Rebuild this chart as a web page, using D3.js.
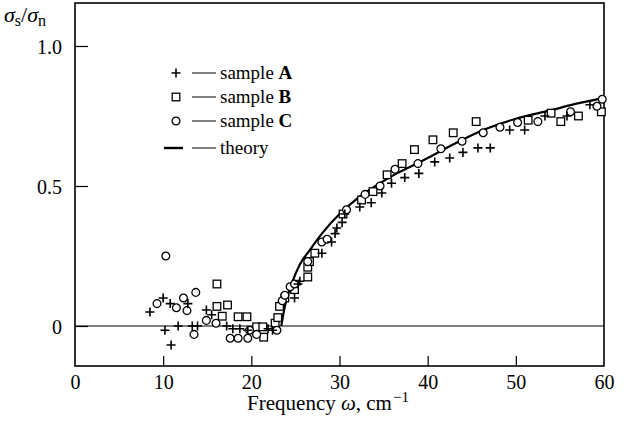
<!DOCTYPE html>
<html>
<head>
<meta charset="utf-8">
<script src="https://cdn.jsdelivr.net/npm/d3@7"></script>
<style>
  body { margin: 0; background: #fff; }
</style>
</head>
<body>
<svg width="637" height="428"></svg>
<script>
// sample A (+)
const aX = [8.5, 10.0, 10.2, 10.8, 10.9, 11.7, 12.8, 13.3, 13.9, 14.9, 15.5, 17.2, 17.9, 18.7, 19.6, 21.9, 22.4,
  24.9, 25.3, 25.5, 28.0, 29.1, 29.5, 29.7, 30.3, 30.6, 32.3, 33.6, 34.8, 35.9, 37.4, 39.0, 40.8, 42.5, 44.0,
  45.7, 47.1, 49.3, 51.0, 53.3, 55.8, 58.4]
const aY = [0.05, 0.10, -0.015, 0.08, -0.068, 0.0, 0.08, 0.0, 0.0, 0.057, 0.04, 0.0, -0.01, -0.01, -0.015, -0.01, -0.015,
  0.10, 0.15, 0.16, 0.26, 0.30, 0.33, 0.35, 0.37, 0.40, 0.425, 0.44, 0.475, 0.51, 0.53, 0.545, 0.586, 0.60, 0.62,
  0.636, 0.636, 0.70, 0.70, 0.75, 0.75, 0.79]

// sample B (squares)
const bX = [16.1, 16.1, 16.7, 17.3, 18.5, 19.5, 20.6, 21.3, 21.4, 22.7, 23.0, 23.2, 23.8, 24.9, 26.4, 26.4, 26.6,
  27.2, 30.4, 32.5, 33.8, 35.4, 37.1, 38.5, 40.6, 42.9, 45.5, 51.4, 54.0, 55.1, 57.1, 59.7]
const bY = [0.15, 0.07, 0.035, 0.075, 0.033, 0.033, -0.003, -0.003, -0.04, 0.01, 0.03, 0.07, 0.10, 0.13, 0.175, 0.21, 0.23,
  0.26, 0.40, 0.45, 0.48, 0.54, 0.58, 0.63, 0.665, 0.69, 0.73, 0.735, 0.76, 0.73, 0.75, 0.765]

// sample C (circles)
const cX = [9.3, 10.3, 11.5, 12.3, 12.7, 13.5, 13.7, 14.9, 16.0, 17.6, 18.5, 19.6, 19.8, 20.6, 22.9, 23.5, 23.8,
  24.4, 24.9, 26.4, 28.0, 28.6, 30.8, 32.9, 34.6, 36.3, 38.9, 41.5, 43.9, 46.3, 48.2, 50.2, 52.5, 56.2, 59.2, 59.8]
const cY = [0.08, 0.25, 0.065, 0.10, 0.055, -0.03, 0.12, 0.02, 0.01, -0.044, -0.044, -0.044, -0.015, -0.03, -0.015, 0.09, 0.11,
  0.14, 0.15, 0.23, 0.30, 0.31, 0.415, 0.47, 0.50, 0.56, 0.58, 0.633, 0.66, 0.69, 0.71, 0.727, 0.73, 0.765, 0.785, 0.81]

// theory curve
const thX = [23.4, 23.8, 24.6, 25.5, 26.6, 28.0, 30.0, 32.0, 34.6, 36.5, 38.8, 40.6, 43.0, 46.3, 50.0, 53.9, 57.0, 60.0]
const thY = [0.0, 0.07, 0.153, 0.22, 0.27, 0.33, 0.40, 0.455, 0.51, 0.545, 0.58, 0.61, 0.65, 0.70, 0.74, 0.77, 0.795, 0.815]

const xTicks = [0, 10, 20, 30, 40, 50, 60]
const yTicks = [0, 0.5, 1.0]
const yTickLabels = ["0", "0.5", "1.0"]
const legendLabels = ["sample ", "sample ", "sample ", "theory"]
const legendKeys = ["A", "B", "C", ""]

var serif = '"Liberation Serif", "Times New Roman", "DejaVu Serif", serif'

var svg = d3.select('svg').attr('font-family', serif)
var padL = 75, padR = 604, padT = 3, padB = 366

var x_scale = d3.scaleLinear().domain([0, 60]).range([padL, padR])
var y_scale = d3.scaleLinear().domain([0, 0.5]).range([326, 186])

// frame
svg.append('rect')
    .attr('x', padL).attr('y', padT)
    .attr('width', padR - padL).attr('height', padB - padT)
    .attr('fill', 'none').attr('stroke', '#000').attr('stroke-width', 1.6)

// zero line
svg.append('line')
    .attr('x1', padL).attr('x2', padR)
    .attr('y1', y_scale(0)).attr('y2', y_scale(0))
    .attr('stroke', '#000').attr('stroke-width', 1.2)

// x axis (inward ticks)
var x_axis = d3.axisTop(x_scale).tickValues(xTicks).tickSize(10).tickFormat('')
var gx = svg.append('g').attr('transform', 'translate(0,' + padB + ')').call(x_axis)
    .attr('font-family', serif)
gx.select('.domain').remove()
gx.selectAll('line').attr('stroke-width', 1.2)
gx.selectAll('.tick').filter(d => d === 0 || d === 60).select('line').remove()
gx.selectAll('.tick').append('text')
    .attr('y', 23).attr('text-anchor', 'middle').attr('fill', '#000')
    .style('font-family', serif).style('font-size', '20px')
    .text(d => d)

// y axis (inward ticks)
var y_axis = d3.axisRight(y_scale).tickValues(yTicks).tickSize(13).tickFormat('')
var gy = svg.append('g').attr('transform', 'translate(' + padL + ',0)').call(y_axis)
    .attr('font-family', serif)
gy.select('.domain').remove()
gy.selectAll('line').attr('stroke-width', 1.2)
gy.selectAll('.tick').append('text')
    .attr('x', -13).attr('dy', '0.35em').attr('text-anchor', 'end').attr('fill', '#000')
    .style('font-family', serif).style('font-size', '20px')
    .text((d, i) => yTickLabels[i])

// y label
var yl = svg.append('text').attr('x', 4).attr('y', 22).attr('fill', '#000')
    .style('font-family', serif).style('font-size', '22px')
yl.append('tspan').style('font-style', 'italic').text('σ')
yl.append('tspan').attr('dy', 4).style('font-size', '16px').text('s')
yl.append('tspan').attr('dy', -4).text('/')
yl.append('tspan').style('font-style', 'italic').text('σ')
yl.append('tspan').attr('dy', 4).style('font-size', '16px').text('n')

// x label
var xl = svg.append('text').attr('x', 328).attr('y', 410).attr('text-anchor', 'middle').attr('fill', '#000')
    .style('font-family', serif).style('font-size', '21px')
xl.append('tspan').text('Frequency ')
xl.append('tspan').style('font-style', 'italic').text('ω')
xl.append('tspan').text(', cm')
xl.append('tspan').attr('dy', -8).attr('dx', 1).style('font-size', '15px').text('−1')

// theory
var line = d3.line()
    .x((d, i) => x_scale(thX[i]))
    .y((d, i) => y_scale(thY[i]))
    .curve(d3.curveMonotoneX)
svg.append('path')
    .datum(thX)
    .attr('d', line)
    .attr('fill', 'none').attr('stroke', '#000').attr('stroke-width', 2.2)

// markers
function plus(g) {
    g.append('path').attr('d', 'M-4.5,0H4.5M0,-4.5V4.5').attr('stroke', '#000').attr('stroke-width', 1.6).attr('fill', 'none')
}
function square(g) {
    g.append('rect').attr('x', -3.8).attr('y', -3.8).attr('width', 7.6).attr('height', 7.6)
        .attr('fill', '#fff').attr('stroke', '#000').attr('stroke-width', 1.3)
}
function circle(g) {
    g.append('circle').attr('r', 3.9).attr('fill', '#fff').attr('stroke', '#000').attr('stroke-width', 1.3)
}

svg.append('g').selectAll('g').data(bX).enter().append('g')
    .attr('transform', (d, i) => 'translate(' + x_scale(d) + ',' + y_scale(bY[i]) + ')')
    .call(square)
svg.append('g').selectAll('g').data(cX).enter().append('g')
    .attr('transform', (d, i) => 'translate(' + x_scale(d) + ',' + y_scale(cY[i]) + ')')
    .call(circle)
svg.append('g').selectAll('g').data(aX).enter().append('g')
    .attr('transform', (d, i) => 'translate(' + x_scale(d) + ',' + y_scale(aY[i]) + ')')
    .call(plus)

// legend
var legY = [73, 97, 121, 148]
var leg = svg.append('g').selectAll('g').data(legendLabels).enter().append('g')
    .attr('transform', (d, i) => 'translate(176,' + legY[i] + ')')
leg.filter((d, i) => i === 0).call(plus)
leg.filter((d, i) => i === 1).call(square)
leg.filter((d, i) => i === 2).call(circle)
leg.filter((d, i) => i === 3).append('line')
    .attr('x1', -12).attr('x2', 7).attr('stroke', '#000').attr('stroke-width', 2.4)
leg.append('line').attr('x1', 16).attr('x2', 40).attr('stroke', '#000').attr('stroke-width', 1)
var lt = leg.append('text').attr('x', 44).attr('dy', '0.33em').attr('fill', '#000')
    .style('font-family', serif).style('font-size', '19px')
lt.append('tspan').text(d => d)
lt.append('tspan').style('font-weight', 'bold').text((d, i) => legendKeys[i])
</script>
</body>
</html>
